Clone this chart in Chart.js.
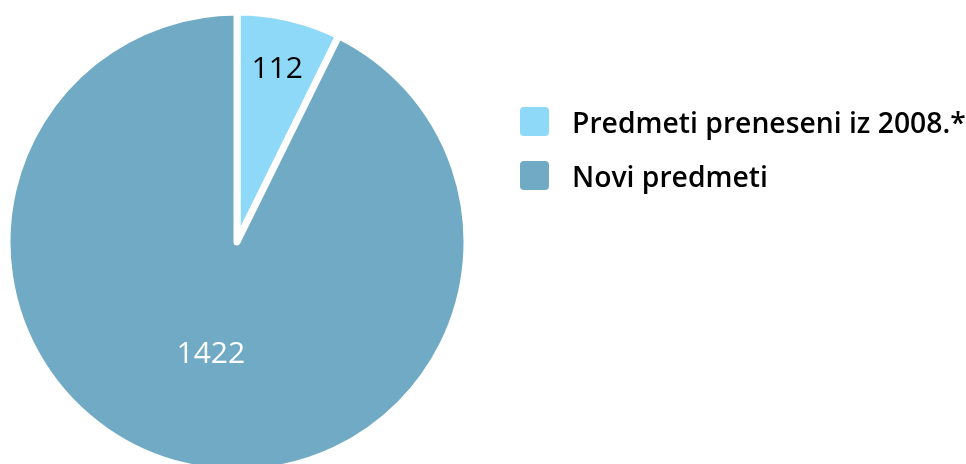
<!DOCTYPE html>
<html>
<head>
<meta charset="utf-8">
<script src="https://cdn.jsdelivr.net/npm/chart.js@4"></script>
<style>
    html, body { margin: 0; padding: 0; background: #fff; overflow: hidden; }
    #wrap { position: relative; width: 966px; height: 464px; }
    #legend { position: absolute; left: 520px; top: 107px; font-family: "Open Sans", sans-serif; font-weight: 600; font-size: 28.3px; color: #000; }
    .item { display: flex; align-items: center; height: 29px; margin-bottom: 25px; white-space: nowrap; }
    .box { width: 29px; height: 29px; border-radius: 4px; margin-right: 23px; }
</style>
</head>
<body>
<div id="wrap">
    <canvas id="pieChart" width="966" height="464"></canvas>
    <div id="legend"></div>
</div>
<script>
// data
const categories = ['Predmeti preneseni iz 2008.*', 'Novi predmeti'];
const counts = [112, 1422];
const sliceColors = ['#8ED8F8', '#70AAC5'];
const labelColors = ['#000000', '#ffffff'];

// value labels inside the slices
const sliceLabels = {
    id: 'sliceLabels',
    afterDatasetsDraw(chart, args, opts) {
        const ctx = chart.ctx;
        const meta = chart.getDatasetMeta(0);
        ctx.save();
        ctx.font = '30px "Open Sans", sans-serif';
        ctx.textAlign = 'center';
        ctx.textBaseline = 'middle';
        meta.data.forEach(function (arc, i) {
            const mid = (arc.startAngle + arc.endAngle) / 2;
            const r = arc.outerRadius * opts.distance[i];
            ctx.fillStyle = labelColors[i];
            ctx.fillText(String(counts[i]), arc.x + Math.cos(mid) * r, arc.y + Math.sin(mid) * r);
        });
        ctx.restore();
    }
};

document.addEventListener('DOMContentLoaded', function () {
    const ctx = document.getElementById('pieChart').getContext('2d');
    new Chart(ctx, {
        type: 'pie',
        data: {
            labels: categories,
            datasets: [{
                data: counts,
                backgroundColor: sliceColors,
                borderColor: '#ffffff',
                borderWidth: 7,
                borderJoinStyle: 'round',
                radius: 230,
                hoverOffset: 0
            }]
        },
        options: {
            responsive: false,
            animation: false,
            layout: { padding: { left: 0, right: 492, top: 20, bottom: 0 } },
            plugins: {
                legend: { display: false },
                tooltip: { enabled: false },
                sliceLabels: { distance: [0.77, 0.5] }
            }
        },
        plugins: [sliceLabels]
    });

    // legend built from the same arrays
    const legend = document.getElementById('legend');
    categories.forEach(function (name, i) {
        const row = document.createElement('div');
        row.className = 'item';
        const box = document.createElement('span');
        box.className = 'box';
        box.style.background = sliceColors[i];
        const text = document.createElement('span');
        text.textContent = name;
        row.appendChild(box);
        row.appendChild(text);
        legend.appendChild(row);
    });
});
</script>
</body>
</html>
